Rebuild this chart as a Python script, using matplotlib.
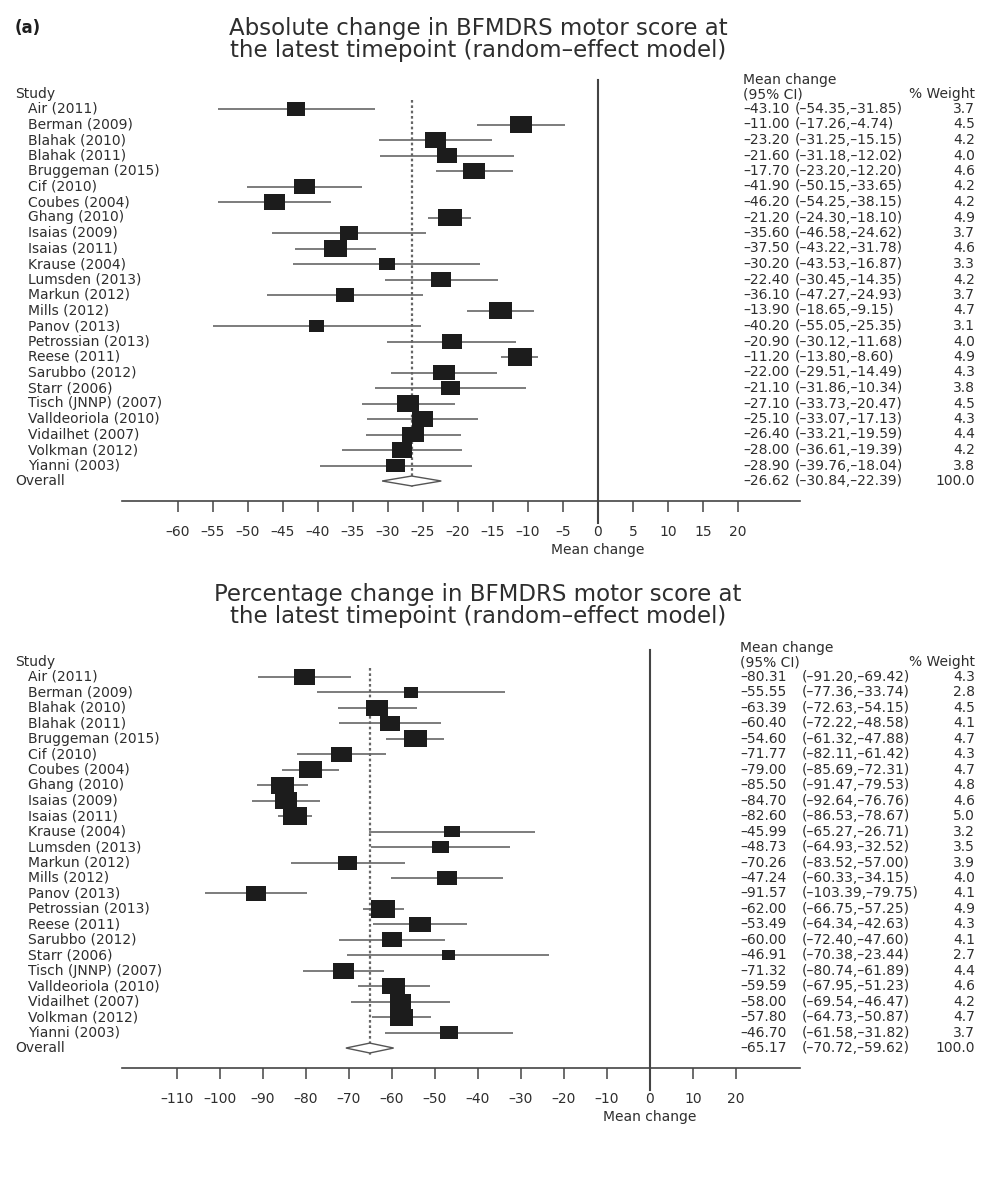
import numpy as np
import matplotlib
matplotlib.use("Agg")
import matplotlib.pyplot as plt
from matplotlib.patches import Rectangle, Polygon
from matplotlib import transforms

plt.rcParams['font.family'] = ['DejaVu Sans']

# ---- data ----
studies = ["Air (2011)", "Berman (2009)", "Blahak (2010)", "Blahak (2011)",
           "Bruggeman (2015)", "Cif (2010)", "Coubes (2004)", "Ghang (2010)",
           "Isaias (2009)", "Isaias (2011)", "Krause (2004)", "Lumsden (2013)",
           "Markun (2012)", "Mills (2012)", "Panov (2013)", "Petrossian (2013)",
           "Reese (2011)", "Sarubbo (2012)", "Starr (2006)", "Tisch (JNNP) (2007)",
           "Valldeoriola (2010)", "Vidailhet (2007)", "Volkman (2012)", "Yianni (2003)"]

abs_mean = [-43.10, -11.00, -23.20, -21.60, -17.70, -41.90, -46.20, -21.20,
            -35.60, -37.50, -30.20, -22.40, -36.10, -13.90, -40.20, -20.90,
            -11.20, -22.00, -21.10, -27.10, -25.10, -26.40, -28.00, -28.90]
abs_lower = [-54.35, -17.26, -31.25, -31.18, -23.20, -50.15, -54.25, -24.30,
             -46.58, -43.22, -43.53, -30.45, -47.27, -18.65, -55.05, -30.12,
             -13.80, -29.51, -31.86, -33.73, -33.07, -33.21, -36.61, -39.76]
abs_upper = [-31.85, -4.74, -15.15, -12.02, -12.20, -33.65, -38.15, -18.10,
             -24.62, -31.78, -16.87, -14.35, -24.93, -9.15, -25.35, -11.68,
             -8.60, -14.49, -10.34, -20.47, -17.13, -19.59, -19.39, -18.04]
abs_weight = [3.7, 4.5, 4.2, 4.0, 4.6, 4.2, 4.2, 4.9, 3.7, 4.6, 3.3, 4.2,
              3.7, 4.7, 3.1, 4.0, 4.9, 4.3, 3.8, 4.5, 4.3, 4.4, 4.2, 3.8]
abs_overall = (-26.62, -30.84, -22.39)
abs_ticks = list(range(-60, 21, 5))

pct_mean = [-80.31, -55.55, -63.39, -60.40, -54.60, -71.77, -79.00, -85.50,
            -84.70, -82.60, -45.99, -48.73, -70.26, -47.24, -91.57, -62.00,
            -53.49, -60.00, -46.91, -71.32, -59.59, -58.00, -57.80, -46.70]
pct_lower = [-91.20, -77.36, -72.63, -72.22, -61.32, -82.11, -85.69, -91.47,
             -92.64, -86.53, -65.27, -64.93, -83.52, -60.33, -103.39, -66.75,
             -64.34, -72.40, -70.38, -80.74, -67.95, -69.54, -64.73, -61.58]
pct_upper = [-69.42, -33.74, -54.15, -48.58, -47.88, -61.42, -72.31, -79.53,
             -76.76, -78.67, -26.71, -32.52, -57.00, -34.15, -79.75, -57.25,
             -42.63, -47.60, -23.44, -61.89, -51.23, -46.47, -50.87, -31.82]
pct_weight = [4.3, 2.8, 4.5, 4.1, 4.7, 4.3, 4.7, 4.8, 4.6, 5.0, 3.2, 3.5,
              3.9, 4.0, 4.1, 4.9, 4.3, 4.1, 2.7, 4.4, 4.6, 4.2, 4.7, 3.7]
pct_overall = (-65.17, -70.72, -59.62)
pct_ticks = list(range(-110, 21, 10))

W, H = 1000, 1200
TXT = '#2e2e2e'
FS = 10
DASH = '\u2013'


def fx(px):
    return px / W


def fy(py):
    return 1 - py / H


def fmt(v, nd=2):
    return f"{v:.{nd}f}".replace('-', DASH)


def forest(fig, title, mean, lower, upper, weight, overall, ticks,
           zero_px, scale, row0, step, top_y, axis_y, mean_x, ci_x, title_y):
    left_px, right_px = 122, 800
    ax = fig.add_axes([fx(left_px), fy(axis_y), (right_px - left_px) / W,
                       (axis_y - top_y) / H])
    ax.set_xlim((left_px - zero_px) / scale, (right_px - zero_px) / scale)
    ax.set_ylim((axis_y - row0) / step, (top_y - row0) / step)
    for s in ['left', 'right', 'top']:
        ax.spines[s].set_visible(False)
    ax.spines['bottom'].set_color('#444444')
    ax.spines['bottom'].set_linewidth(1.2)
    ax.set_yticks([])
    ax.set_xticks(ticks)
    ax.set_xticklabels([fmt(t, 0) for t in ticks])
    ax.tick_params(axis='x', direction='out', length=8, width=1.1,
                   color='#444444', labelsize=FS, labelcolor=TXT, pad=9)

    n = len(mean)
    rows = np.arange(n)

    # confidence intervals and weighted boxes
    ax.hlines(rows, lower, upper, color='#666666', lw=1.2, zorder=2)
    for k, m, w in zip(rows, mean, weight):
        bw = w * 4.9 / scale
        bh = w * 3.6 / step
        ax.add_patch(Rectangle((m - bw / 2, k - bh / 2), bw, bh,
                               fc='#1c1c1c', ec='none', zorder=3))

    pm, plo, phi = overall
    ax.plot([pm, pm], [-0.6, n + 0.45], color='#666666', lw=1.6,
            ls=(0, (1.2, 1.2)), zorder=1)
    ax.add_patch(Polygon([(plo, n), (pm, n - 0.32), (phi, n), (pm, n + 0.32)],
                         closed=True, fc='white', ec='#555555', lw=1.0, zorder=4))

    # line of no effect, running past the axis
    k_top = (top_y - row0) / step
    k_bot = (axis_y + 22 - row0) / step
    ax.plot([0, 0], [k_top, k_bot], color='#444444', lw=1.5, clip_on=False)

    ax.text(0, (axis_y + 49 - row0) / step, 'Mean change', ha='center',
            va='center', fontsize=FS, color=TXT, clip_on=False)

    tr = transforms.blended_transform_factory(fig.transFigure, ax.transData)
    kw = dict(transform=tr, va='center', fontsize=FS, color=TXT, clip_on=False)
    ax.text(fx(15), -0.95, 'Study', **kw)
    for k, name in zip(rows, studies):
        ax.text(fx(28), k, name, **kw)
    ax.text(fx(15), n, 'Overall', **kw)

    ax.text(fx(mean_x), -1.85, 'Mean change', **kw)
    ax.text(fx(mean_x), -0.95, '(95% CI)', **kw)
    ax.text(fx(975), -0.95, '% Weight', ha='right', **kw)
    all_mean = list(mean) + [pm]
    all_lo = list(lower) + [plo]
    all_hi = list(upper) + [phi]
    all_w = [f"{w:.1f}" for w in weight] + ["100.0"]
    for k in range(n + 1):
        ax.text(fx(mean_x), k, fmt(all_mean[k]), **kw)
        ax.text(fx(ci_x), k, f"({fmt(all_lo[k])},{fmt(all_hi[k])})", **kw)
        ax.text(fx(975), k, all_w[k], ha='right', **kw)

    for i, line in enumerate(title):
        fig.text(fx(478), fy(title_y + 23 * i), line, ha='center', va='center',
                 fontsize=16.5, color=TXT)
    return ax


fig = plt.figure(figsize=(10, 12), dpi=100)

forest(fig, ["Absolute change in BFMDRS motor score at",
             "the latest timepoint (random\u2013effect model)"],
       abs_mean, abs_lower, abs_upper, abs_weight, abs_overall, abs_ticks,
       zero_px=598, scale=7.0, row0=109, step=15.5, top_y=80, axis_y=501,
       mean_x=743, ci_x=795, title_y=28)

forest(fig, ["Percentage change in BFMDRS motor score at",
             "the latest timepoint (random\u2013effect model)"],
       pct_mean, pct_lower, pct_upper, pct_weight, pct_overall, pct_ticks,
       zero_px=650, scale=4.3, row0=677, step=15.46, top_y=650, axis_y=1068,
       mean_x=740, ci_x=802, title_y=594)

fig.text(fx(15), fy(28), '(a)', ha='left', va='center', fontsize=12,
         fontweight='bold', color='#1e1e1e')

fig.savefig('out.png', dpi=100)
